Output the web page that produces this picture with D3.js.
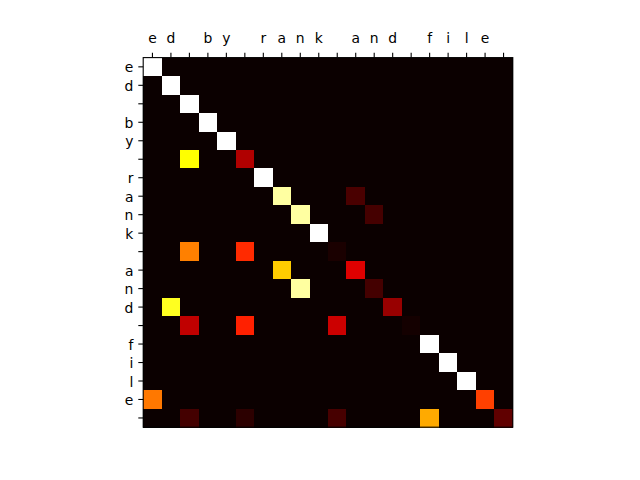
<!DOCTYPE html>
<html><head><meta charset="utf-8">
<script src="https://cdn.jsdelivr.net/npm/d3@7"></script>
<style>body{margin:0;background:#fff}</style>
</head><body>
<svg id="c" width="640" height="480"></svg>
<script>
// Labels (characters of the text; last one is an end token shown blank)
const colLabels = ["e","d"," ","b","y"," ","r","a","n","k"," ","a","n","d"," ","f","i","l","e",""];
const rowLabels = ["e","d"," ","b","y"," ","r","a","n","k"," ","a","n","d"," ","f","i","l","e",""];

// Non-zero attention weights: [row, col, value]
const cellRows = [0,1,2,3,4, 5,5, 6, 7,7, 8,8, 9, 10,10,10, 11,11, 12,12, 13,13, 14,14,14,14, 15,16,17, 18,18, 19,19,19,19,19];
const cellCols = [0,1,2,3,4, 2,5, 6, 7,11, 8,12, 9, 2,5,10, 7,11, 8,12, 1,13, 2,5,10,14, 15,16,17, 0,18, 2,5,10,15,19];
const cellVals = [1,1,1,1,1, 0.746,0.247, 1, 0.906,0.095, 0.906,0.087, 1, 0.556,0.428,0.023, 0.67,0.318, 0.905,0.086, 0.778,0.211, 0.271,0.413,0.289,0.014, 1,1,1, 0.544,0.46, 0.085,0.05,0.09,0.619,0.127];

const n = rowLabels.length;
const matrix = d3.range(n).map(() => d3.range(n).map(() => 0));
cellRows.forEach((r,i) => { matrix[r][cellCols[i]] = cellVals[i]; });

// matplotlib "hot" colormap
function hot(v){
  v = Math.max(0, Math.min(1, v));
  const r = v < 0.365079 ? 0.0416 + (1-0.0416)*v/0.365079 : 1;
  const g = v < 0.365079 ? 0 : (v < 0.746032 ? (v-0.365079)/(0.746032-0.365079) : 1);
  const b = v < 0.746032 ? 0 : (v-0.746032)/(1-0.746032);
  return d3.rgb(r*255, g*255, b*255).toString();
}
const vmin = d3.min(matrix.flat()), vmax = d3.max(matrix.flat());
const color = v => hot((v - vmin)/(vmax - vmin));

const mLeft = 143.2, mTop = 57.6, size = 369.6;
const svg = d3.select("#c");
const x = d3.scaleBand().domain(d3.range(n)).range([mLeft, mLeft+size]);
const y = d3.scaleBand().domain(d3.range(n)).range([mTop, mTop+size]);

const cells = [];
matrix.forEach((row,i) => row.forEach((v,j) => cells.push({i,j,v})));
svg.append("g").selectAll("rect").data(cells).join("rect")
  .attr("x", d => x(d.j)).attr("y", d => y(d.i))
  .attr("width", x.bandwidth()+0.5).attr("height", y.bandwidth()+0.5)
  .attr("fill", d => color(d.v))
  .attr("shape-rendering","crispEdges");

svg.append("rect").attr("x", mLeft).attr("y", mTop).attr("width", size).attr("height", size)
  .attr("fill","none").attr("stroke","#000").attr("stroke-width",1.1);

const font = "DejaVu Sans";
const xAxis = d3.axisTop(x).tickSize(4.9).tickPadding(4.9).tickFormat(i => colLabels[i]);
const gx = svg.append("g").attr("transform", `translate(0,${mTop})`).call(xAxis);
const yAxis = d3.axisLeft(y).tickSize(4.9).tickPadding(4.9).tickFormat(i => rowLabels[i]);
const gy = svg.append("g").attr("transform", `translate(${mLeft},0)`).call(yAxis);
[gx, gy].forEach(g => {
  g.select(".domain").remove();
  g.selectAll(".tick line").attr("stroke","#000").attr("stroke-width",1.1);
  g.selectAll(".tick text").attr("font-family", font).attr("font-size", 13.9).attr("fill","#000");
});
gx.selectAll(".tick text").attr("dy", "-0.35em");
gy.selectAll(".tick text").attr("dy", "0.4em");
</script>
</body></html>
